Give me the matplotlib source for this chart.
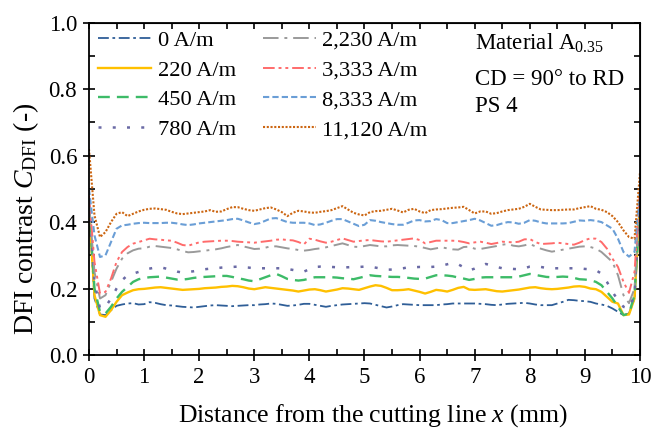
import numpy as np
import matplotlib
matplotlib.use('Agg')
import matplotlib.pyplot as plt
from matplotlib.ticker import MultipleLocator

plt.rcParams['font.family'] = ['Liberation Serif', 'DejaVu Serif']
plt.rcParams['mathtext.fontset'] = 'custom'
plt.rcParams['mathtext.rm'] = 'Liberation Serif'
plt.rcParams['mathtext.it'] = 'Liberation Serif:italic'

# position along the profile (mm), 0.1 mm step
x = np.linspace(0, 10, 101)

c0 = [0.44, 0.17, 0.122, 0.12, 0.135, 0.148, 0.152, 0.155, 0.156, 0.152,
      0.153, 0.159, 0.157, 0.153, 0.150, 0.149, 0.147, 0.145, 0.144, 0.143,
      0.145, 0.147, 0.149, 0.150, 0.149, 0.148, 0.147, 0.148, 0.149, 0.150,
      0.150, 0.152, 0.153, 0.155, 0.154, 0.151, 0.148, 0.149, 0.151, 0.154,
      0.154, 0.151, 0.148, 0.145, 0.148, 0.150, 0.152, 0.153, 0.154, 0.155,
      0.156, 0.155, 0.151, 0.147, 0.143, 0.146, 0.150, 0.153, 0.152, 0.151,
      0.150, 0.150, 0.150, 0.150, 0.152, 0.153, 0.155, 0.155, 0.155, 0.155,
      0.155, 0.154, 0.153, 0.151, 0.150, 0.152, 0.154, 0.155, 0.156, 0.157,
      0.155, 0.152, 0.150, 0.150, 0.150, 0.155, 0.160, 0.166, 0.165, 0.163,
      0.162, 0.160, 0.155, 0.152, 0.148, 0.140, 0.130, 0.120, 0.125, 0.170, 0.45]

c220 = [0.44, 0.18, 0.12, 0.115, 0.135, 0.16, 0.18, 0.188, 0.195, 0.198,
        0.199, 0.201, 0.203, 0.204, 0.202, 0.200, 0.198, 0.196, 0.197, 0.198,
        0.199, 0.201, 0.202, 0.203, 0.205, 0.206, 0.208, 0.207, 0.204, 0.200,
        0.198, 0.201, 0.204, 0.202, 0.200, 0.198, 0.196, 0.194, 0.191, 0.194,
        0.197, 0.198, 0.195, 0.191, 0.194, 0.197, 0.201, 0.200, 0.198, 0.196,
        0.201, 0.206, 0.210, 0.208, 0.202, 0.195, 0.195, 0.196, 0.198, 0.194,
        0.190, 0.185, 0.190, 0.196, 0.194, 0.191, 0.196, 0.202, 0.205, 0.197,
        0.196, 0.197, 0.198, 0.195, 0.192, 0.191, 0.193, 0.195, 0.197, 0.200,
        0.203, 0.204, 0.201, 0.199, 0.198, 0.199, 0.201, 0.203, 0.206, 0.207,
        0.205, 0.200, 0.198, 0.190, 0.175, 0.160, 0.155, 0.120, 0.122, 0.170, 0.46]

c450 = [0.45, 0.20, 0.13, 0.125, 0.145, 0.17, 0.19, 0.205, 0.22, 0.228,
        0.232, 0.234, 0.235, 0.236, 0.233, 0.230, 0.227, 0.227, 0.229, 0.232,
        0.234, 0.235, 0.236, 0.237, 0.238, 0.238, 0.235, 0.231, 0.228, 0.224,
        0.222, 0.228, 0.234, 0.240, 0.244, 0.237, 0.229, 0.226, 0.224, 0.226,
        0.230, 0.234, 0.234, 0.234, 0.234, 0.233, 0.231, 0.230, 0.228, 0.232,
        0.236, 0.240, 0.238, 0.237, 0.236, 0.235, 0.235, 0.234, 0.232, 0.230,
        0.229, 0.230, 0.235, 0.240, 0.240, 0.239, 0.237, 0.233, 0.230, 0.226,
        0.229, 0.233, 0.234, 0.234, 0.234, 0.234, 0.234, 0.234, 0.236, 0.240,
        0.244, 0.241, 0.238, 0.235, 0.234, 0.235, 0.236, 0.235, 0.232, 0.228,
        0.227, 0.225, 0.220, 0.210, 0.190, 0.170, 0.145, 0.120, 0.125, 0.180, 0.46]

c780 = [0.45, 0.22, 0.14, 0.145, 0.17, 0.20, 0.225, 0.24, 0.245, 0.25,
        0.257, 0.260, 0.263, 0.264, 0.260, 0.256, 0.251, 0.248, 0.250, 0.252,
        0.255, 0.258, 0.260, 0.261, 0.263, 0.264, 0.265, 0.266, 0.264, 0.263,
        0.261, 0.261, 0.261, 0.261, 0.261, 0.261, 0.259, 0.256, 0.253, 0.251,
        0.258, 0.265, 0.266, 0.265, 0.265, 0.264, 0.264, 0.264, 0.265, 0.265,
        0.266, 0.266, 0.263, 0.260, 0.257, 0.257, 0.259, 0.261, 0.264, 0.264,
        0.265, 0.265, 0.265, 0.266, 0.269, 0.273, 0.277, 0.273, 0.264, 0.255,
        0.260, 0.267, 0.274, 0.270, 0.265, 0.261, 0.260, 0.259, 0.258, 0.261,
        0.266, 0.267, 0.265, 0.262, 0.261, 0.261, 0.261, 0.261, 0.261, 0.261,
        0.259, 0.258, 0.255, 0.245, 0.220, 0.190, 0.165, 0.145, 0.140, 0.180, 0.47]

c2230 = [0.46, 0.25, 0.17, 0.18, 0.22, 0.26, 0.29, 0.306, 0.315, 0.320,
         0.321, 0.326, 0.328, 0.326, 0.324, 0.322, 0.318, 0.313, 0.309, 0.310,
         0.312, 0.314, 0.316, 0.318, 0.321, 0.325, 0.328, 0.331, 0.327, 0.323,
         0.319, 0.320, 0.323, 0.327, 0.327, 0.324, 0.321, 0.319, 0.316, 0.314,
         0.316, 0.319, 0.321, 0.324, 0.328, 0.332, 0.336, 0.331, 0.326, 0.325,
         0.328, 0.331, 0.329, 0.327, 0.327, 0.330, 0.331, 0.330, 0.329, 0.328,
         0.326, 0.322, 0.318, 0.321, 0.324, 0.321, 0.318, 0.317, 0.325, 0.326,
         0.320, 0.319, 0.322, 0.325, 0.328, 0.332, 0.334, 0.329, 0.327, 0.330,
         0.334, 0.327, 0.320, 0.315, 0.311, 0.314, 0.317, 0.320, 0.323, 0.326,
         0.327, 0.325, 0.320, 0.310, 0.295, 0.280, 0.240, 0.180, 0.156, 0.200, 0.48]

c3333 = [0.48, 0.28, 0.185, 0.19, 0.23, 0.28, 0.31, 0.325, 0.335, 0.340,
         0.345, 0.350, 0.348, 0.347, 0.345, 0.344, 0.338, 0.331, 0.329, 0.334,
         0.339, 0.341, 0.342, 0.343, 0.344, 0.344, 0.343, 0.341, 0.340, 0.339,
         0.338, 0.340, 0.342, 0.344, 0.347, 0.348, 0.346, 0.345, 0.340, 0.333,
         0.350, 0.347, 0.342, 0.338, 0.341, 0.346, 0.351, 0.346, 0.341, 0.343,
         0.345, 0.346, 0.344, 0.342, 0.341, 0.343, 0.345, 0.347, 0.349, 0.351,
         0.346, 0.336, 0.340, 0.344, 0.344, 0.344, 0.344, 0.343, 0.340, 0.336,
         0.339, 0.341, 0.338, 0.334, 0.337, 0.341, 0.340, 0.339, 0.341, 0.348,
         0.349, 0.340, 0.334, 0.335, 0.336, 0.338, 0.336, 0.334, 0.332, 0.338,
         0.346, 0.351, 0.350, 0.340, 0.320, 0.290, 0.265, 0.220, 0.187, 0.250, 0.50]

c8333 = [0.50, 0.36, 0.295, 0.30, 0.34, 0.38, 0.39, 0.392, 0.395, 0.397,
         0.398, 0.397, 0.397, 0.397, 0.398, 0.398, 0.396, 0.393, 0.391, 0.393,
         0.396, 0.398, 0.400, 0.402, 0.404, 0.406, 0.409, 0.410, 0.405, 0.399,
         0.394, 0.397, 0.404, 0.411, 0.412, 0.406, 0.400, 0.398, 0.398, 0.398,
         0.396, 0.391, 0.393, 0.398, 0.404, 0.409, 0.409, 0.402, 0.395, 0.388,
         0.392, 0.406, 0.404, 0.400, 0.397, 0.394, 0.392, 0.392, 0.398, 0.405,
         0.406, 0.402, 0.403, 0.409, 0.406, 0.397, 0.397, 0.400, 0.403, 0.406,
         0.410, 0.405, 0.397, 0.389, 0.391, 0.396, 0.400, 0.399, 0.395, 0.398,
         0.406, 0.404, 0.399, 0.396, 0.396, 0.396, 0.396, 0.397, 0.401, 0.405,
         0.404, 0.406, 0.404, 0.400, 0.390, 0.380, 0.350, 0.310, 0.296, 0.310, 0.50]

c11120 = [0.62, 0.42, 0.355, 0.37, 0.40, 0.425, 0.43, 0.418, 0.425, 0.432,
          0.437, 0.440, 0.441, 0.439, 0.437, 0.431, 0.426, 0.424, 0.426, 0.428,
          0.430, 0.432, 0.436, 0.431, 0.432, 0.439, 0.445, 0.445, 0.440, 0.436,
          0.434, 0.438, 0.442, 0.444, 0.438, 0.430, 0.418, 0.428, 0.434, 0.432,
          0.429, 0.428, 0.431, 0.433, 0.436, 0.442, 0.448, 0.438, 0.428, 0.423,
          0.420, 0.430, 0.433, 0.434, 0.437, 0.440, 0.435, 0.429, 0.437, 0.440,
          0.432, 0.427, 0.436, 0.438, 0.439, 0.441, 0.443, 0.444, 0.446, 0.436,
          0.426, 0.432, 0.432, 0.425, 0.427, 0.432, 0.436, 0.438, 0.440, 0.446,
          0.455, 0.446, 0.438, 0.437, 0.436, 0.436, 0.437, 0.438, 0.438, 0.442,
          0.445, 0.448, 0.440, 0.437, 0.430, 0.418, 0.400, 0.375, 0.355, 0.350, 0.55]

labels = ['0 A/m', '220 A/m', '450 A/m', '780 A/m',
          '2,230 A/m', '3,333 A/m', '8,333 A/m', '11,120 A/m']
series = [c0, c220, c450, c780, c2230, c3333, c8333, c11120]
colors = ['#2F5E97', '#FFC000', '#3DBB68', '#6A6AA5',
          '#9A9A9A', '#FF6B6B', '#6A9ED6', '#CC6612']
styles = [(0, (6, 2, 1.5, 2)), '-', (0, (5, 3)), (0, (1.2, 4.5)),
          (0, (8, 3, 1.5, 3)), (0, (6, 2, 1.5, 2, 1.5, 2)), (0, (3, 1.5)), (0, (1, 0.8))]
widths = [1.3, 1.7, 1.7, 1.8, 1.4, 1.4, 1.5, 1.5]

fig = plt.figure(figsize=(6.62, 4.29), dpi=100)
ax = fig.add_axes([0.1344, 0.1725, 0.8324, 0.7745])

for y, lab, c, ls, lw in zip(series, labels, colors, styles, widths):
    ax.plot(x, y, color=c, linestyle=ls, linewidth=lw, label=lab)

ax.set_xlim(0, 10)
ax.set_ylim(0, 1.0)
ax.xaxis.set_major_locator(MultipleLocator(1))
ax.xaxis.set_minor_locator(MultipleLocator(0.5))
ax.yaxis.set_major_locator(MultipleLocator(0.2))
ax.yaxis.set_minor_locator(MultipleLocator(0.1))
ax.yaxis.set_major_formatter(matplotlib.ticker.FormatStrFormatter('%.1f'))
ax.tick_params(which='major', direction='inout', length=9, width=1.2, labelsize=16.5, pad=4)
ax.tick_params(which='minor', direction='in', length=4, width=1.2)
for s in ax.spines.values():
    s.set_linewidth(1.3)

top = ax.secondary_xaxis('top')
top.xaxis.set_major_locator(MultipleLocator(1))
top.xaxis.set_minor_locator(MultipleLocator(0.5))
top.tick_params(which='both', direction='in', length=4, width=1.2, labeltop=False)
right = ax.secondary_yaxis('right')
right.yaxis.set_major_locator(MultipleLocator(0.2))
right.yaxis.set_minor_locator(MultipleLocator(0.1))
right.tick_params(which='both', direction='in', length=4, width=1.2, labelright=False)

ax.set_xlabel('Distance from the cutting line $x$ (mm)', fontsize=18.5)
ax.xaxis.set_label_coords(0.516, -0.1414)
ax.set_ylabel('DFI contrast $C_{\\mathrm{DFI}}$ (-)', fontsize=20)
ax.yaxis.set_label_coords(-0.087, 0.41)

ax.legend(loc='upper left', bbox_to_anchor=(0.0, 1.005), ncol=2, frameon=False,
          fontsize=16.2, handlelength=2.35, labelspacing=0.4, columnspacing=1.2,
          handletextpad=0.3, borderaxespad=0.05, borderpad=0.35)

info = ['Material A$_{0.35}$', 'CD = 90° to RD', 'PS 4']
info_y = [0.918, 0.8125, 0.731]
for t, yy in zip(info, info_y):
    ax.text(0.7005, yy, t, transform=ax.transAxes, fontsize=16.5,
            va='baseline', ha='left')

fig.savefig('out.png', dpi=100)
